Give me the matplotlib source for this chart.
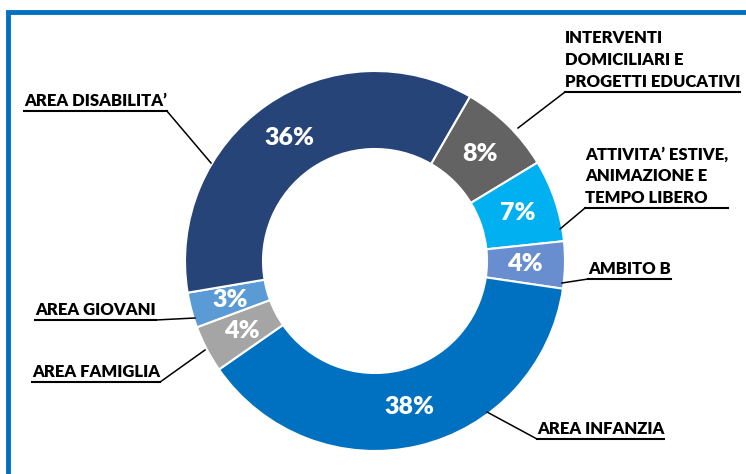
import matplotlib.pyplot as plt
from matplotlib.patches import Rectangle

plt.rcParams['font.family'] = ['Lato', 'DejaVu Sans']

# dati (in ordine orario dalla fetta grigia in alto)
categorie = ['INTERVENTI\nDOMICILIARI E\nPROGETTI EDUCATIVI',
             'ATTIVITA\u2019 ESTIVE,\nANIMAZIONE E\nTEMPO LIBERO',
             'AMBITO B', 'AREA INFANZIA', 'AREA FAMIGLIA',
             'AREA GIOVANI', 'AREA DISABILITA\u2019']
valori = [8, 7, 4, 38, 4, 3, 36]
colori = ['#636363', '#00B0F0', '#698ED0', '#0070C0', '#A5A5A5', '#5B9BD5', '#264478']

# posizione etichette (pixel): x sinistra, y riga inferiore, punto sulla ciambella
etichette_pos = [
    (565, 87, (518, 128)),
    (585, 203, (560, 229)),
    (588, 274, (562, 283)),
    (537, 434, (487, 412)),
    (32, 377, (205, 350)),
    (35, 315, (195, 318)),
    (24, 106, (211, 163)),
]

W, H = 746, 474
fig = plt.figure(figsize=(W / 100, H / 100), dpi=100)
ax = fig.add_axes([0, 0, 1, 1])

# cornice blu
fig.patches.append(Rectangle((8 / W, -0.1), 1.2, 1 - 12 / H + 0.1, transform=fig.transFigure,
                             fill=False, edgecolor='#0070C0', linewidth=3.5))

wedges, _, autotexts = ax.pie(valori, colors=colori, startangle=60, counterclock=False,
                              center=(375, H - 261), radius=190,
                              wedgeprops=dict(width=78, edgecolor='white', linewidth=1.5),
                              autopct='%d%%', pctdistance=0.79)
for t in autotexts:
    t.set_color('white')
    t.set_fontsize(18)
    t.set_fontweight('heavy')

ax.set_xlim(0, W)
ax.set_ylim(0, H)
ax.set_aspect('equal')
ax.axis('off')

fig.canvas.draw()
renderer = fig.canvas.get_renderer()
inv = ax.transData.inverted()
for testo, (x, y, punto) in zip(categorie, etichette_pos):
    t = ax.text(x, H - y, testo, ha='left', va='baseline', fontsize=12, fontweight='heavy',
                color='black', linespacing=1.45)
    bb = t.get_window_extent(renderer)
    (x0, _), (x1, _) = inv.transform([(bb.x0, 0), (bb.x1, 0)])
    yl = H - y - 5
    ax.plot([x0, x1], [yl, yl], color='black', lw=1.5)
    px, py = punto
    # collega dal lato piu vicino alla ciambella
    xs = x0 if abs(x0 - px) < abs(x1 - px) else x1
    ax.plot([xs, px], [yl, H - py], color='black', lw=1.1)

fig.savefig('out.png', dpi=100)
